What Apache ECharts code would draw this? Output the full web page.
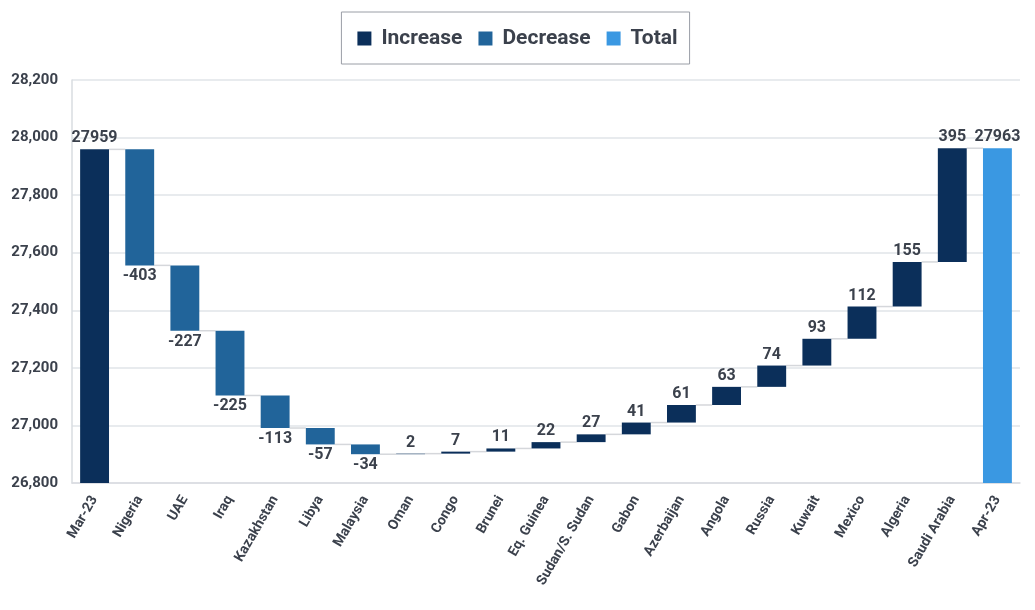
<!DOCTYPE html>
<html>
<head>
<meta charset="utf-8">
<script src="https://cdn.jsdelivr.net/npm/echarts@6/dist/echarts.min.js"></script>
<style>html,body{margin:0;padding:0;background:#fff;}#chart{width:1035px;height:610px;}</style>
</head>
<body>
<div id="chart"></div>
<script>
const categories = ['Mar-23','Nigeria','UAE','Iraq','Kazakhstan','Libya','Malaysia','Oman','Congo','Brunei','Eq. Guinea','Sudan/S. Sudan','Gabon','Azerbaijan','Angola','Russia','Kuwait','Mexico','Algeria','Saudi Arabia','Apr-23'];
const startValue = 27959;
const changes = [-403,-227,-225,-113,-57,-34,2,7,11,22,27,41,61,63,74,93,112,155,395];
const endValue = 27963;

const yTicks = {min: 26800, max: 28200, interval: 200};

const C_INC = '#0b2f5a', C_DEC = '#21649a', C_TOT = '#3a98e2';
const TXT = '#3b414c';

const n = categories.length;
const base = new Array(n).fill('-');
const inc = new Array(n).fill('-');
const dec = new Array(n).fill('-');
const tot = new Array(n).fill('-');
const signed = new Array(n);
const levels = [];
inc[0] = startValue; base[0] = 0; signed[0] = startValue; levels.push(startValue);
let cum = startValue;
changes.forEach((c, k) => {
  const i = k + 1;
  signed[i] = c;
  if (c >= 0) { base[i] = cum; inc[i] = c; }
  else { base[i] = cum + c; dec[i] = -c; }
  cum += c;
  levels.push(cum);
});
tot[n-1] = endValue; base[n-1] = 0; signed[n-1] = endValue;

const labelCommon = {show: true, fontFamily: 'Roboto', fontWeight: 'bold', fontSize: 16, color: TXT, formatter: p => String(signed[p.dataIndex])};

const connData = [];
for (let i = 0; i < n - 1; i++) connData.push([i, levels[i]]);

const chart = echarts.init(document.getElementById('chart'));
chart.setOption({
  animation: false,
  textStyle: {fontFamily: 'Roboto'},
  legend: {
    top: 12, left: 'center',
    data: ['Increase','Decrease','Total'],
    borderColor: '#9a9ea6', borderWidth: 1,
    padding: [16, 12, 15, 16],
    itemWidth: 14, itemHeight: 14, itemGap: 16,
    icon: 'rect',
    textStyle: {fontFamily: 'Roboto', fontWeight: 'bold', fontSize: 21, color: TXT, padding: [0, 0, 0, 5]}
  },
  grid: {left: 72, right: 15, top: 80, bottom: 127, containLabel: false},
  xAxis: {
    type: 'category', data: categories,
    axisLine: {show: true, lineStyle: {color: '#d9dce1', width: 1.5}},
    axisTick: {show: false},
    axisLabel: {rotate: 60, interval: 0, fontFamily: 'Roboto', fontWeight: 'bold', fontSize: 14, color: TXT, margin: 14}
  },
  yAxis: {
    type: 'value', min: yTicks.min, max: yTicks.max, interval: yTicks.interval,
    axisLine: {show: true, lineStyle: {color: '#d9dce1', width: 1.5}},
    axisTick: {show: false},
    splitLine: {lineStyle: {color: '#e1e4e8', width: 1.5}},
    axisLabel: {fontFamily: 'Roboto', fontWeight: 'bold', fontSize: 15, color: TXT, margin: 14,
      formatter: v => v.toLocaleString('en-US')}
  },
  series: [
    {name: 'base', type: 'bar', stack: 'w', data: base, barWidth: '64%', itemStyle: {color: 'transparent'}, silent: true, label: {show: false}},
    {name: 'Increase', type: 'bar', stack: 'w', data: inc, itemStyle: {color: C_INC}, label: Object.assign({position: 'top', distance: 3}, labelCommon)},
    {name: 'Decrease', type: 'bar', stack: 'w', data: dec, itemStyle: {color: C_DEC}, label: Object.assign({position: 'bottom', distance: 3}, labelCommon)},
    {name: 'Total', type: 'bar', stack: 'w', data: tot, itemStyle: {color: C_TOT}, label: Object.assign({position: 'top', distance: 3}, labelCommon)},
    {name: 'conn', type: 'custom', silent: true, z: 1, data: connData,
      renderItem: (params, api) => {
        const i = api.value(0), v = api.value(1);
        const p1 = api.coord([i, v]);
        const p2 = api.coord([i + 1, v]);
        const bw = api.size([1, 0])[0] * 0.64;
        return {type: 'line', shape: {x1: p1[0] + bw/2, y1: p1[1], x2: p2[0] - bw/2, y2: p2[1]},
          style: {stroke: '#d5d7db', lineWidth: 1.5}};
      }
    }
  ]
});
</script>
</body>
</html>
